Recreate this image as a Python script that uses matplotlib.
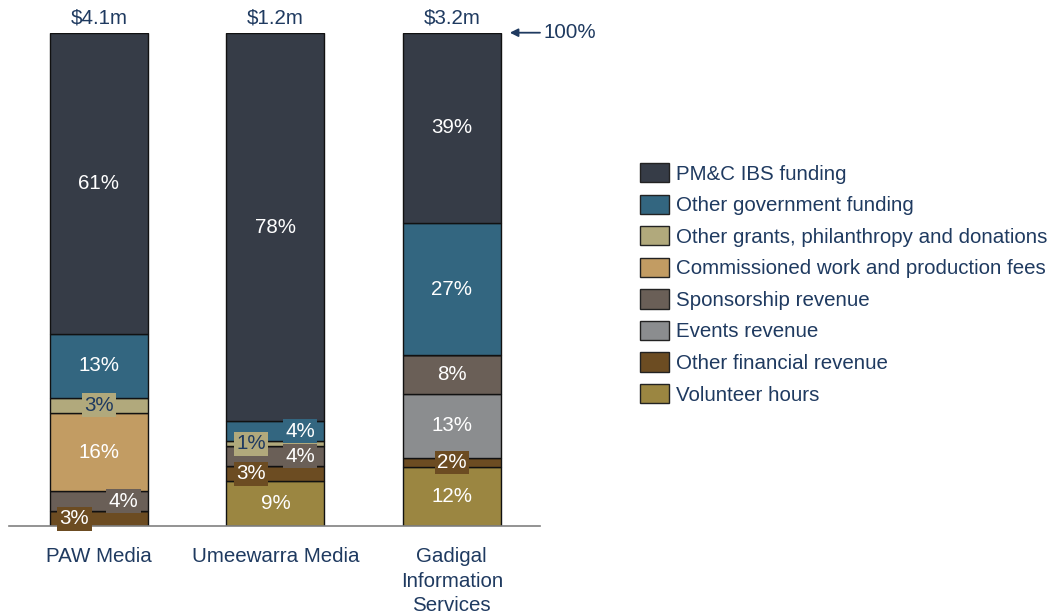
import matplotlib.pyplot as plt
from matplotlib.patches import Patch

plt.rcParams['font.family'] = ['Liberation Sans', 'DejaVu Sans']

# === Data ===
orgs = ["PAW Media", "Umeewarra Media", "Gadigal\nInformation\nServices"]
totals = ["$4.1m", "$1.2m", "$3.2m"]

# shares in %, one value per org
pmc_ibs = [61, 78, 39]
other_gov = [13, 4, 27]
other_grants = [3, 1, 0]
commissioned = [16, 0, 0]
sponsorship = [4, 4, 8]
events = [0, 0, 13]
other_fin = [3, 3, 2]
volunteer = [0, 9, 12]

# legend order (top to bottom)
series = [
    ("PM&C IBS funding", pmc_ibs),
    ("Other government funding", other_gov),
    ("Other grants, philanthropy and donations", other_grants),
    ("Commissioned work and production fees", commissioned),
    ("Sponsorship revenue", sponsorship),
    ("Events revenue", events),
    ("Other financial revenue", other_fin),
    ("Volunteer hours", volunteer),
]

# === Style ===
colors = ["#363C47", "#336680", "#B1A97C", "#C29C63",
          "#6A5F57", "#8B8D8F", "#6C4C22", "#9B8641"]
navy = "#1F3A60"
fs = 14.8
bar_w = 0.555
side = 0.139  # offset of small labels from bar centre

# where small labels go: (org, series index) -> side
small_pos = {
    (0, 6): -1, (0, 4): 1, (0, 2): 0,
    (1, 2): -1, (1, 1): 1, (1, 4): 1, (1, 6): -1,
    (2, 6): 0,
}

fig = plt.figure(figsize=(10.53, 6.15), dpi=100)
ax = fig.add_axes([9 / 1053, 89 / 615, 531 / 1053, 493.3 / 615])

x = list(range(len(orgs)))
bottoms = [0.0] * len(orgs)
sums = [sum(vals[i] for _, vals in series) for i in x]

# stack from the bottom: last legend item first
for k in reversed(range(len(series))):
    name, vals = series[k]
    heights = [vals[i] / sums[i] * 100 for i in x]
    ax.bar(x, heights, bar_w, bottom=bottoms, color=colors[k],
           edgecolor="#111111", linewidth=1.0, zorder=2)
    for i in x:
        if vals[i] <= 0:
            continue
        yc = bottoms[i] + heights[i] / 2
        tc = navy if k == 2 else "white"
        if vals[i] < 5:
            xc = i + side * small_pos.get((i, k), 0)
            ax.text(xc, yc, f"{vals[i]}%", ha='center', va='center',
                    fontsize=fs, color=tc, zorder=4,
                    bbox=dict(boxstyle='square,pad=0.12', fc=colors[k], ec='none'))
        else:
            ax.text(i, yc, f"{vals[i]}%", ha='center', va='center',
                    fontsize=fs, color=tc, zorder=4)
        bottoms[i] += heights[i]

# totals above bars
for i in x:
    ax.text(i, 103.0, totals[i], ha='center', va='center', fontsize=fs,
            color=navy, clip_on=False)

# 100% marker
ax.annotate('', xy=(2.329, 100), xytext=(2.5, 100),
            arrowprops=dict(arrowstyle='-|>', color=navy, lw=1.3,
                            mutation_scale=12, shrinkA=0, shrinkB=0),
            annotation_clip=False)
ax.text(2.522, 100, "100%", ha='left', va='center', fontsize=fs,
        color=navy, clip_on=False)

ax.set_xlim(-0.51, 2.5)
ax.set_ylim(0, 100)
ax.set_xticks(x)
ax.set_xticklabels(orgs, fontsize=fs, color=navy, linespacing=1.38)
ax.tick_params(axis='x', length=0, pad=15)
ax.set_yticks([])
for s in ['top', 'right', 'left']:
    ax.spines[s].set_visible(False)
ax.spines['bottom'].set_color('#808080')
ax.spines['bottom'].set_linewidth(1.2)
ax.spines['bottom'].set_zorder(3)

handles = [Patch(facecolor=colors[k], edgecolor="#222222", linewidth=1.0)
           for k in range(len(series))]
leg = fig.legend(handles, [n for n, _ in series], loc='upper left',
                 bbox_to_anchor=(640 / 1053, (615 - 163) / 615),
                 frameon=False, fontsize=fs, borderpad=0, borderaxespad=0,
                 handlelength=1.41, handleheight=1.07, handletextpad=0.34,
                 labelspacing=0.53)
for t in leg.get_texts():
    t.set_color(navy)

plt.savefig("out.png", dpi=100)
